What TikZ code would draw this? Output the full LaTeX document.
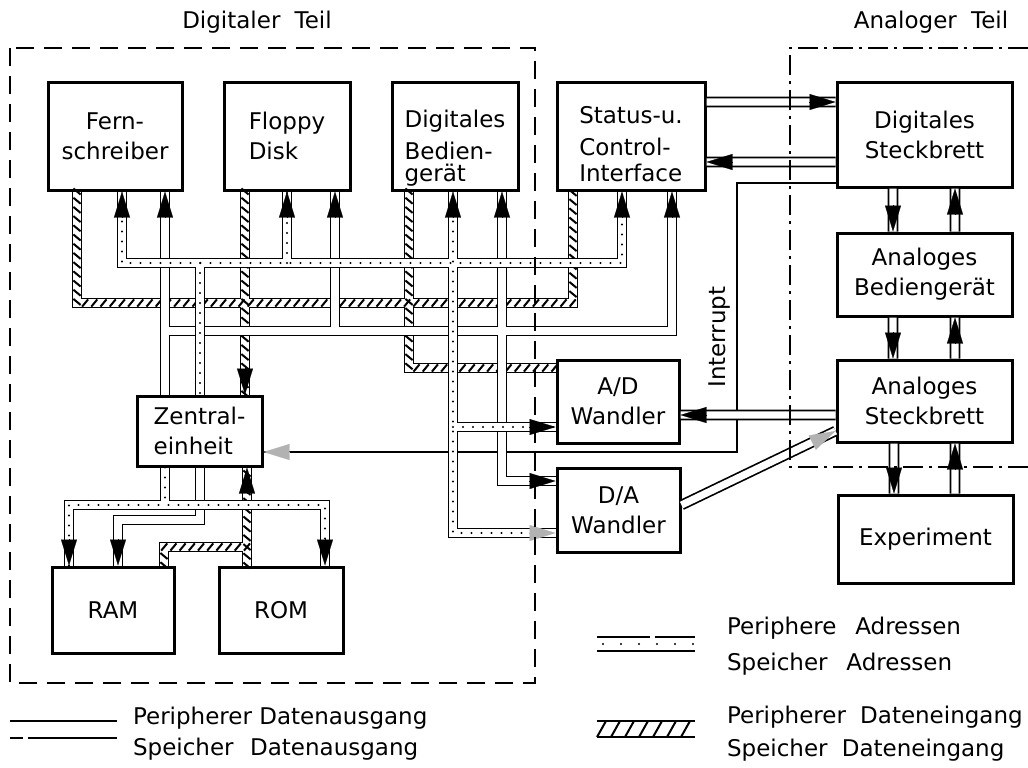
\documentclass[tikz,border=0pt]{standalone}
\usepackage{fontspec}
\setmainfont{DejaVu Sans}
\usetikzlibrary{arrows.meta,decorations.markings}
\newcommand{\lowtxt}[2]{\raisebox{#1}[\height][\depth]{\begin{tabular}{@{}l@{}}#2\end{tabular}}}
\begin{document}
\begin{tikzpicture}[x=0.5pt,y=-0.5pt,
  every node/.style={font=\fontsize{11.5}{15}\selectfont},
  box/.style={draw,line width=1.5pt,fill=white,align=center,inner sep=1pt},
  bus/.style={draw=white,line width=3.6pt,preaction={draw=black,line width=5.3pt}},
  adr/.style={bus,postaction={draw=black,line width=1.2pt,dash pattern=on 0pt off 5pt,line cap=round}},
  hatch/.style={postaction={decorate,decoration={markings,mark=between positions 0 and 1 step 4.6pt with {\draw[black,line width=1pt] (-1.5pt,-1.8pt) -- (1.5pt,1.8pt);}}}},
  tip/.style={line width=0.1pt,-{Triangle[length=13pt,width=8pt]}},
  gtip/.style={tip,gray!60},
  thinl/.style={line width=0.7pt}]
\useasboundingbox (0,0) rectangle (1028,767);
\node (tdig) at (257,22) {Digitaler\hspace{0.3em} Teil};
\node (tana) at (931,22) {Analoger\hspace{0.3em} Teil};
\node[box,minimum width=67pt,minimum height=54pt] (fern) at (115,136) {Fern-\\schreiber};
\node[box,minimum width=63pt,minimum height=54pt,align=left] (floppy) at (287,136) {Floppy\\Disk};
\node[box,minimum width=63pt,minimum height=54pt] (dbed) at (455,136) {\lowtxt{-6pt}{Digitales\\[1pt]Bedien-\\[-4pt]gerät}};
\node[box,minimum width=74pt,minimum height=54pt] (status) at (631,136) {\lowtxt{-5pt}{Status-u.\\[1pt]Control-\\[-2pt]Interface}};
\node[box,minimum width=87.5pt,minimum height=52.5pt] (dsteck) at (924.5,134.5) {Digitales\\Steckbrett};
\node[box,minimum width=87.5pt,minimum height=41.5pt] (abed) at (924.5,274.5) {Analoges\\Bediengerät};
\node[box,minimum width=87.5pt,minimum height=41pt] (asteck) at (924.5,401) {Analoges\\Steckbrett};
\node[box,minimum width=87.5pt,minimum height=44pt] (exp) at (925.5,539) {Experiment};
\node[box,minimum width=61pt,minimum height=41.5pt] (ad) at (618,401.5) {A/D\\Wandler};
\node[box,minimum width=61.5pt,minimum height=42pt] (da) at (618.5,510) {D/A\\Wandler};
\node[box,minimum width=62.5pt,minimum height=35pt,align=left] (cpu) at (199.5,431) {Zentral-\\einheit};
\node[box,minimum width=61pt,minimum height=43pt] (ram) at (113,610) {RAM};
\node[box,minimum width=62pt,minimum height=43pt] (rom) at (281,610) {ROM};
\node[rotate=90] (intr) at (720,337) {Interrupt};
\draw[thinl] (dsteck.west |- 0,183) -- (737,183) -- (737,452) -- (cpu.east |- 0,452);
\draw[bus] (77,0 |- fern.south) -- (77,303) -- (573,303) -- (573,0 |- status.south)
  (245,0 |- floppy.south) -- (245,0 |- cpu.north)
  (409,0 |- dbed.south) -- (409,368) -- (ad.west |- 0,368)
  (247,0 |- rom.north) -- (247,0 |- cpu.south)
  (247,547) -- (164,547) -- (164,0 |- ram.north);
\path[hatch] (77,0 |- fern.south) -- (77,303) -- (573,303) -- (573,0 |- status.south);
\path[hatch] (245,0 |- floppy.south) -- (245,0 |- cpu.north);
\path[hatch] (409,0 |- dbed.south) -- (409,368) -- (ad.west |- 0,368);
\path[hatch] (247,0 |- rom.north) -- (247,0 |- cpu.south);
\path[hatch] (247,547) -- (164,547) -- (164,0 |- ram.north);
\draw[bus] (165,0 |- fern.south) -- (165,0 |- cpu.north)
  (165,331) -- (672,331) -- (672,0 |- status.south)
  (335,0 |- floppy.south) -- (335,331)
  (502,0 |- dbed.south) -- (502,481) -- (da.west |- 0,481)
  (200,0 |- cpu.south) -- (200,520) -- (118,520) -- (118,0 |- ram.north);
\draw[bus] (status.east |- 0,102) -- (dsteck.west |- 0,102)
  (dsteck.west |- 0,162) -- (status.east |- 0,162)
  (asteck.west |- 0,415) -- (ad.east |- 0,415)
  (da.east |- 0,505) -- (asteck.west |- 0,431)
  (893,0 |- dsteck.south) -- (893,0 |- abed.north)
  (955,0 |- abed.north) -- (955,0 |- dsteck.south)
  (893,0 |- abed.south) -- (893,0 |- asteck.north)
  (955,0 |- asteck.north) -- (955,0 |- abed.south)
  (894,0 |- asteck.south) -- (894,0 |- exp.north)
  (955,0 |- exp.north) -- (955,0 |- asteck.south);
\draw[adr] (122,0 |- fern.south) -- (122,263) -- (622,263) -- (622,0 |- status.south)
  (200,263) -- (200,0 |- cpu.north)
  (287,263) -- (287,0 |- floppy.south)
  (453,0 |- dbed.south) -- (453,533) -- (da.west |- 0,533)
  (453,427) -- (ad.west |- 0,427)
  (165,0 |- cpu.south) -- (165,505)
  (69,0 |- ram.north) -- (69,505) -- (325,505) -- (325,0 |- rom.north);
\draw[tip] (122,218) -- (122,0 |- fern.south);
\draw[tip] (165,218) -- (165,0 |- fern.south);
\draw[tip] (287,218) -- (287,0 |- floppy.south);
\draw[tip] (335,218) -- (335,0 |- floppy.south);
\draw[tip] (453,218) -- (453,0 |- dbed.south);
\draw[tip] (502,218) -- (502,0 |- dbed.south);
\draw[tip] (622,218) -- (622,0 |- status.south);
\draw[tip] (672,218) -- (672,0 |- status.south);
\draw[tip] (245,368) -- (245,0 |- cpu.north);
\draw[tip] (247,494) -- (247,0 |- cpu.south);
\draw[tip] (69,539) -- (69,0 |- ram.north);
\draw[tip] (118,539) -- (118,0 |- ram.north);
\draw[tip] (325,539) -- (325,0 |- rom.north);
\draw[tip] (529,427) -- (ad.west |- 0,427);
\draw[tip] (529,481) -- (da.west |- 0,481);
\draw[gtip] (529,533) -- (da.west |- 0,533);
\draw[tip] (707,415) -- (ad.east |- 0,415);
\draw[gtip] (290,452) -- (cpu.east |- 0,452);
\draw[tip] (809,102) -- (dsteck.west |- 0,102);
\draw[tip] (733,162) -- (status.east |- 0,162);
\draw[gtip] (811.7,442.9) -- (asteck.west |- 0,431);
\draw[tip] (893,205) -- (893,0 |- abed.north);
\draw[tip] (955,215) -- (955,0 |- dsteck.south);
\draw[tip] (893,332) -- (893,0 |- asteck.north);
\draw[tip] (955,344) -- (955,0 |- abed.south);
\draw[tip] (894,467) -- (894,0 |- exp.north);
\draw[tip] (955,470) -- (955,0 |- asteck.south);
\draw[line width=0.8pt,dash pattern=on 9pt off 5pt] (10,48) rectangle (535,683);
\draw[thinl,dash pattern=on 10pt off 3pt on 1.5pt off 3pt] (1028,48) -- (790,48) -- (790,467) -- (1028,467);
\draw[thinl] (10,721) -- (117,721) (10,738) -- (23,738) (28,738) -- (117,738);
\node[anchor=west] (l1) at (126,718) {Peripherer Datenausgang};
\node[anchor=west] (l2) at (126,749) {Speicher\hspace{0.4em} Datenausgang};
\draw[thinl] (597,637) -- (650,637) (655,637) -- (695,637) (597,651) -- (695,651);
\draw[line width=1.2pt,dash pattern=on 0pt off 9pt,line cap=round] (603,644) -- (695,644);
\node[anchor=west] (l3) at (720,628) {Periphere\hspace{0.5em} Adressen};
\node[anchor=west] (l4) at (720,664) {Speicher\hspace{0.5em} Adressen};
\draw[thinl] (597,721) -- (695,721) (597,737) -- (695,737);
\foreach \x in {597,611,...,681} \draw[line width=1pt] (\x,737) -- (\x+9,721);
\node[anchor=west] (l5) at (720,717) {Peripherer\hspace{0.3em} Dateneingang};
\node[anchor=west] (l6) at (720,750) {Speicher\hspace{0.3em} Dateneingang};
\end{tikzpicture}
\end{document}
